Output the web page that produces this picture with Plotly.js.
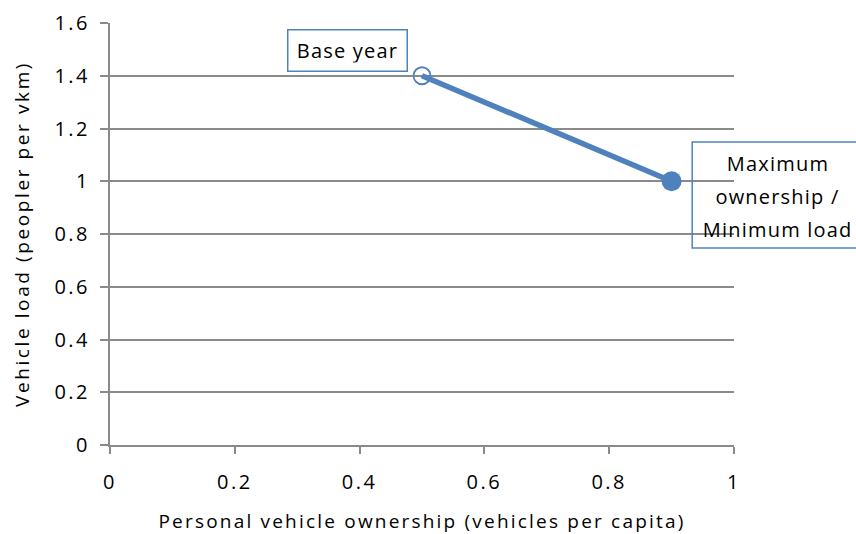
<!DOCTYPE html>
<html>
<head>
<meta charset="utf-8">
<script src="https://cdn.plot.ly/plotly-3.0.1.min.js"></script>
<style>
html,body{margin:0;padding:0;background:#fff;}
#chart{width:856px;height:534px;}
#chart text.xtitle {letter-spacing: 2.2px;}
#chart text.ytitle {letter-spacing: 2.6px;}
#chart g.xtick text, #chart g.ytick text {letter-spacing: 2.5px;}
#chart g.annotation-text-g text {letter-spacing: 1.2px;}
</style>
</head>
<body>
<div id="chart"></div>
<script>
const ownership = [0.5, 0.9];
const vehicleLoad = [1.4, 1.0];
const xTicks = [0, 0.2, 0.4, 0.6, 0.8, 1];
const xTickLabels = ['0', '0.2', '0.4', '0.6', '0.8', '1'];
const yTicks = [0, 0.2, 0.4, 0.6, 0.8, 1, 1.2, 1.4, 1.6];
const yTickLabels = ['0', '0.2', '0.4', '0.6', '0.8', '1', '1.2', '1.4', '1.6'];
const baseLabel = 'Base year';
const maxLabelLines = ['Maximum', 'ownership /', 'Minimum load'];

const blue = '#4F81BD';
const grey = '#8a8a8a';
const font = 'Open Sans, Liberation Sans, Arial, sans-serif';

const traces = [
  {
    x: ownership, y: vehicleLoad, type: 'scatter', mode: 'lines',
    line: {color: blue, width: 5.5}, hoverinfo: 'skip', showlegend: false
  },
  {
    x: [ownership[0]], y: [vehicleLoad[0]], type: 'scatter', mode: 'markers',
    marker: {symbol: 'circle-open', size: 17, color: blue, line: {width: 1.8, color: blue}},
    showlegend: false, cliponaxis: false
  },
  {
    x: [ownership[1]], y: [vehicleLoad[1]], type: 'scatter', mode: 'markers',
    marker: {symbol: 'circle', size: 20, color: blue},
    showlegend: false, cliponaxis: false
  }
];

const maxLineY = [0.668, 0.5877, 0.5118];
const annotations = [
  {
    x: 0.38, y: 1.494 / 1.6, xref: 'paper', yref: 'paper', text: baseLabel, showarrow: false,
    font: {size: 20}, bordercolor: blue, borderwidth: 1.5, borderpad: 8, bgcolor: '#fff',
    width: 102, height: 24, xanchor: 'center', yanchor: 'middle'
  }
];
maxLabelLines.forEach((t, i) => annotations.push({
  x: 1.0705, y: maxLineY[i], xref: 'paper', yref: 'paper', text: t, showarrow: false,
  font: {size: 20}, xanchor: 'center', yanchor: 'middle'
}));

const layout = {
  width: 856, height: 534,
  margin: {l: 110, r: 122, t: 23, b: 89},
  paper_bgcolor: '#fff', plot_bgcolor: '#fff',
  font: {family: font, size: 19, color: '#000'},
  showlegend: false,
  xaxis: {
    range: [0, 1], tickvals: xTicks, ticktext: xTickLabels,
    showgrid: false, zeroline: false, showline: true, linecolor: grey, linewidth: 2,
    ticks: 'outside', ticklen: 7, tickcolor: grey, tickwidth: 2,
    tickfont: {size: 20}, ticklabelstandoff: 11, fixedrange: true,
    title: {text: 'Personal vehicle ownership (vehicles per capita)', font: {size: 19}, standoff: 23}
  },
  yaxis: {
    range: [0, 1.6], tickvals: yTicks, ticktext: yTickLabels,
    showgrid: true, gridcolor: grey, gridwidth: 2, zeroline: false,
    showline: true, linecolor: grey, linewidth: 2,
    ticks: 'outside', ticklen: 8, tickcolor: grey, tickwidth: 2,
    tickfont: {size: 20}, ticklabelstandoff: 6, fixedrange: true,
    title: {text: 'Vehicle load (peopler per vkm)', font: {size: 19}, standoff: 27}
  },
  shapes: [
    {
      type: 'rect', xref: 'paper', yref: 'paper',
      x0: 0.933, x1: 1.25, y0: 0.4668, y1: 0.718,
      line: {color: blue, width: 1.5}, fillcolor: 'rgba(255,255,255,0)', layer: 'above'
    }
  ],
  annotations: annotations
};

Plotly.newPlot('chart', traces, layout, {displayModeBar: false, staticPlot: true});
</script>
</body>
</html>
